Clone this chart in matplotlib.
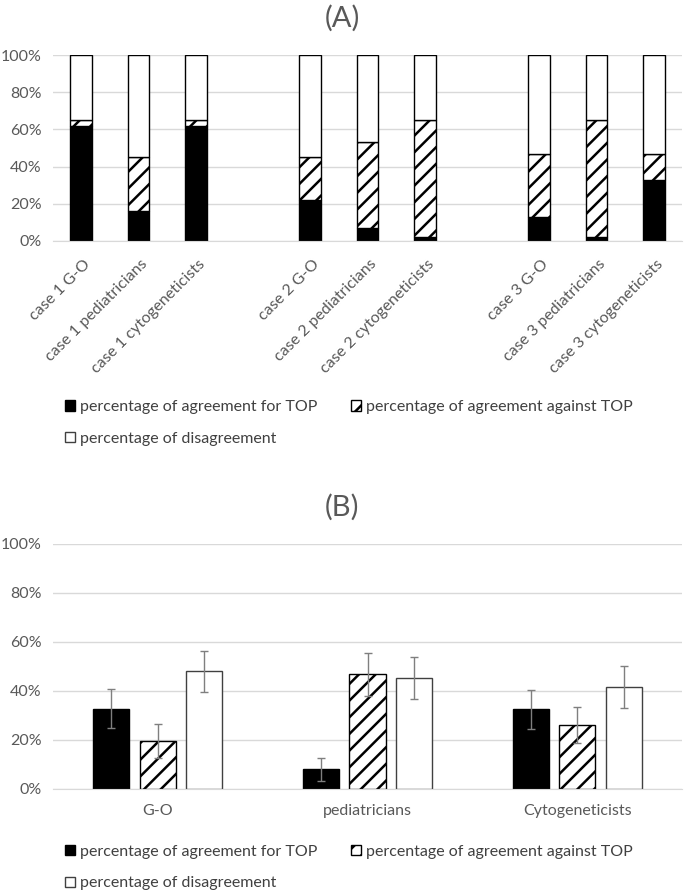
import numpy as np
import matplotlib.pyplot as plt
from matplotlib.patches import Patch
from matplotlib.ticker import PercentFormatter
from matplotlib.transforms import ScaledTranslation

plt.rcParams['font.family'] = ['Lato', 'DejaVu Sans']
plt.rcParams['hatch.linewidth'] = 1.8

# panel A: stacked shares per case and group (%)
labels_a = ["case 1 G-O", "case 1 pediatricians", "case 1 cytogeneticists", "",
            "case 2 G-O", "case 2 pediatricians", "case 2 cytogeneticists", "",
            "case 3 G-O", "case 3 pediatricians", "case 3 cytogeneticists"]
for_top_a = [62, 16, 62, np.nan, 22, 7, 2, np.nan, 13, 2, 33]
against_top_a = [3, 29, 3, np.nan, 23, 46, 63, np.nan, 34, 63, 14]
disagree_a = [35, 55, 35, np.nan, 55, 47, 35, np.nan, 53, 35, 53]

# panel B: means with error bars (%)
groups_b = ["G-O", "pediatricians", "Cytogeneticists"]
for_top_b = [32.7, 8.0, 32.5]
against_top_b = [19.6, 46.7, 26.0]
disagree_b = [48.0, 45.3, 41.6]
for_top_err = [8.0, 4.7, 7.9]
against_top_err = [7.0, 8.6, 7.3]
disagree_err = [8.3, 8.6, 8.4]

legend_names = ["percentage of agreement for TOP",
                "percentage of agreement against TOP",
                "percentage of disagreement"]

grey_txt = "#595959"
grid_col = "#d9d9d9"
fs = 11.5


def style_axis(ax):
    ax.set_ylim(0, 100)
    ax.set_yticks(range(0, 101, 20))
    ax.yaxis.set_major_formatter(PercentFormatter(decimals=0))
    ax.grid(axis="y", color=grid_col, linewidth=1)
    ax.set_axisbelow(True)
    for s in ["top", "right", "left"]:
        ax.spines[s].set_visible(False)
    ax.spines["bottom"].set_color(grid_col)
    ax.tick_params(axis="both", length=0, colors=grey_txt, labelsize=fs)
    ax.tick_params(axis="y", pad=8)


def add_legend(fig, y, hatch):
    handles = [Patch(facecolor="black", edgecolor="black"),
               Patch(facecolor="white", edgecolor="black", hatch=hatch),
               Patch(facecolor="white", edgecolor="#404040")]
    order = [0, 2, 1]
    fig.legend([handles[i] for i in order], [legend_names[i] for i in order],
               ncol=2, loc="upper left", bbox_to_anchor=(0.0855, y),
               frameon=False, fontsize=fs, labelcolor="#404040",
               handlelength=0.62, handleheight=0.62, handletextpad=0.33,
               columnspacing=2.1, labelspacing=1.1, borderaxespad=0)


fig = plt.figure(figsize=(6.85, 8.93), dpi=100)

# (A)
ax1 = fig.add_axes([0.077, 0.7302, 0.919, 0.2082])
x = np.arange(len(labels_a))
w = 0.38
b1 = np.nan_to_num(for_top_a)
b2 = np.nan_to_num(against_top_a)
b3 = np.nan_to_num(disagree_a)
keep = ~np.isnan(np.array(for_top_a, dtype=float))
ax1.bar(x[keep], b1[keep], w, color="black", edgecolor="black", linewidth=1)
ax1.bar(x[keep], b2[keep], w, bottom=b1[keep], color="white",
        edgecolor="black", linewidth=1, hatch="//")
ax1.bar(x[keep], b3[keep], w, bottom=b1[keep] + b2[keep], color="white",
        edgecolor="black", linewidth=1)
style_axis(ax1)
ax1.set_xlim(-0.5, len(labels_a) - 0.5)
ax1.set_xticks(x[keep])
ax1.set_xticklabels([l for l, k in zip(labels_a, keep) if k], rotation=45,
                    ha="right", rotation_mode="anchor")
shift = ScaledTranslation(0.02, -0.11, fig.dpi_scale_trans)
for lab in ax1.get_xticklabels():
    lab.set_transform(lab.get_transform() + shift)
fig.text(0.5, 0.98, "(A)", ha="center", va="center", fontsize=21,
         color=grey_txt)
add_legend(fig, 0.559, "//")

# (B)
ax2 = fig.add_axes([0.077, 0.1165, 0.919, 0.2745])
xb = np.arange(len(groups_b))
wb = 0.172
off = 0.222
ekw = dict(ecolor="#7f7f7f", elinewidth=1, capsize=2.7, capthick=1)
ax2.bar(xb - off, for_top_b, wb, color="black", edgecolor="black",
        yerr=for_top_err, error_kw=ekw)
ax2.bar(xb, against_top_b, wb, color="white", edgecolor="black",
        linewidth=1, hatch="//", yerr=against_top_err, error_kw=ekw)
ax2.bar(xb + off, disagree_b, wb, color="white", edgecolor="#404040",
        linewidth=1, yerr=disagree_err, error_kw=ekw)
style_axis(ax2)
ax2.set_xlim(-0.5, 2.5)
ax2.set_xticks(xb)
ax2.set_xticklabels(groups_b)
ax2.tick_params(axis="x", pad=11)
fig.text(0.5, 0.432, "(B)", ha="center", va="center", fontsize=21,
         color=grey_txt)
add_legend(fig, 0.061, "//")

fig.savefig("out.png", dpi=100)
